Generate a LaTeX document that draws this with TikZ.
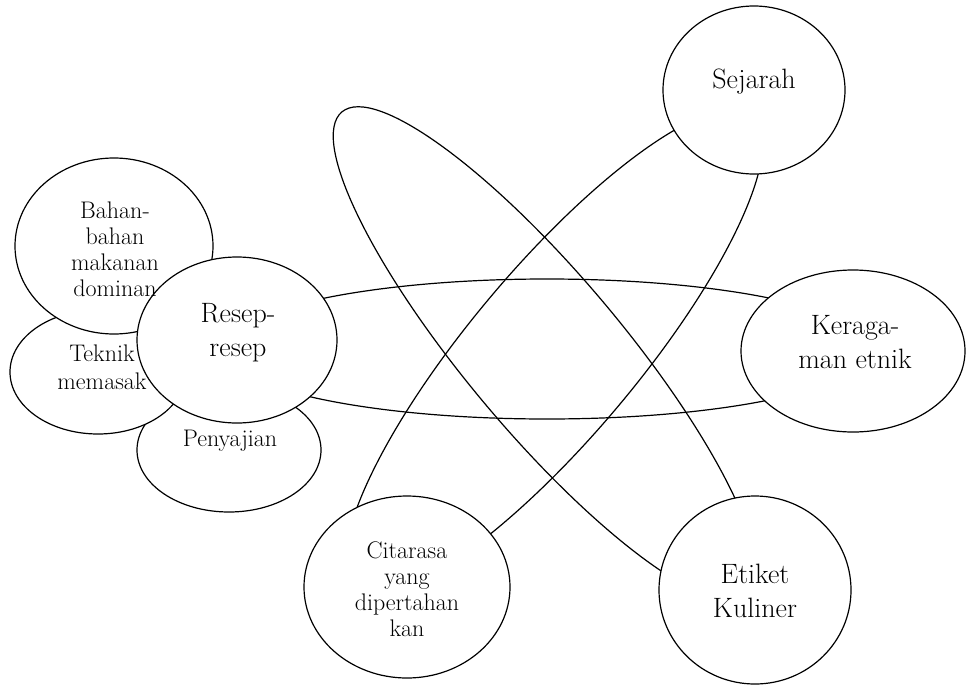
\documentclass[tikz,border=0pt]{standalone}
\usetikzlibrary{shapes.geometric}
\tikzset{
  bubble/.style={ellipse, draw, fill=white, line width=1.2pt, inner sep=0pt},
  loopring/.style={ellipse, draw, line width=1.2pt, inner sep=0pt},
  bigtext/.style={font=\fontsize{28}{34}\selectfont, align=center, inner sep=0pt},
  smalltext/.style={font=\fontsize{24}{26}\selectfont, align=center, inner sep=0pt}
}
\begin{document}
\begin{tikzpicture}[x=1pt,y=-1pt]
\useasboundingbox (0,0) rectangle (966,685);
% loops
\node[loopring, minimum width=648, minimum height=140] (loopA) at (547,349) {};
\node[loopring, rotate=-50, minimum width=632, minimum height=156] (loopB) at (545,354) {};
\node[loopring, rotate=50, minimum width=618, minimum height=168] (loopC) at (554,352) {};
% left cluster
\node[bubble, minimum width=184, minimum height=124] (pen) at (229,450) {};
\node[bubble, minimum width=176, minimum height=124] (tek) at (98,372) {};
\node[bubble, minimum width=198, minimum height=176] (bah) at (114,246) {};
\node[bubble, minimum width=200, minimum height=166] (res) at (237,340) {};
% right / bottom
\node[bubble, minimum width=182, minimum height=168] (sej) at (754,90) {};
\node[bubble, minimum width=224, minimum height=162] (ker) at (853,351) {};
\node[bubble, minimum width=192, minimum height=188] (eti) at (755,590) {};
\node[bubble, minimum width=206, minimum height=182] (cit) at (407,587) {};
% texts
\node[bigtext] (sejt) at (754,82) {Sejarah};
\node[bigtext] (kert) at (855,342) {Keraga-\\man etnik};
\node[bigtext] (etit) at (755,591) {Etiket\\Kuliner};
\node[bigtext] (rest) at (238,333) {Resep-\\resep};
\node[smalltext] (citt) at (407,589) {Citarasa\\yang\\dipertahan\\kan};
\node[smalltext] (baht) at (115,249) {Bahan-\\bahan\\makanan\\dominan};
\node[smalltext, font=\fontsize{24}{28}\selectfont] (tekt) at (102,367) {Teknik\\memasak};
\node[smalltext] (pent) at (230,441) {Penyajian};
\end{tikzpicture}
\end{document}
